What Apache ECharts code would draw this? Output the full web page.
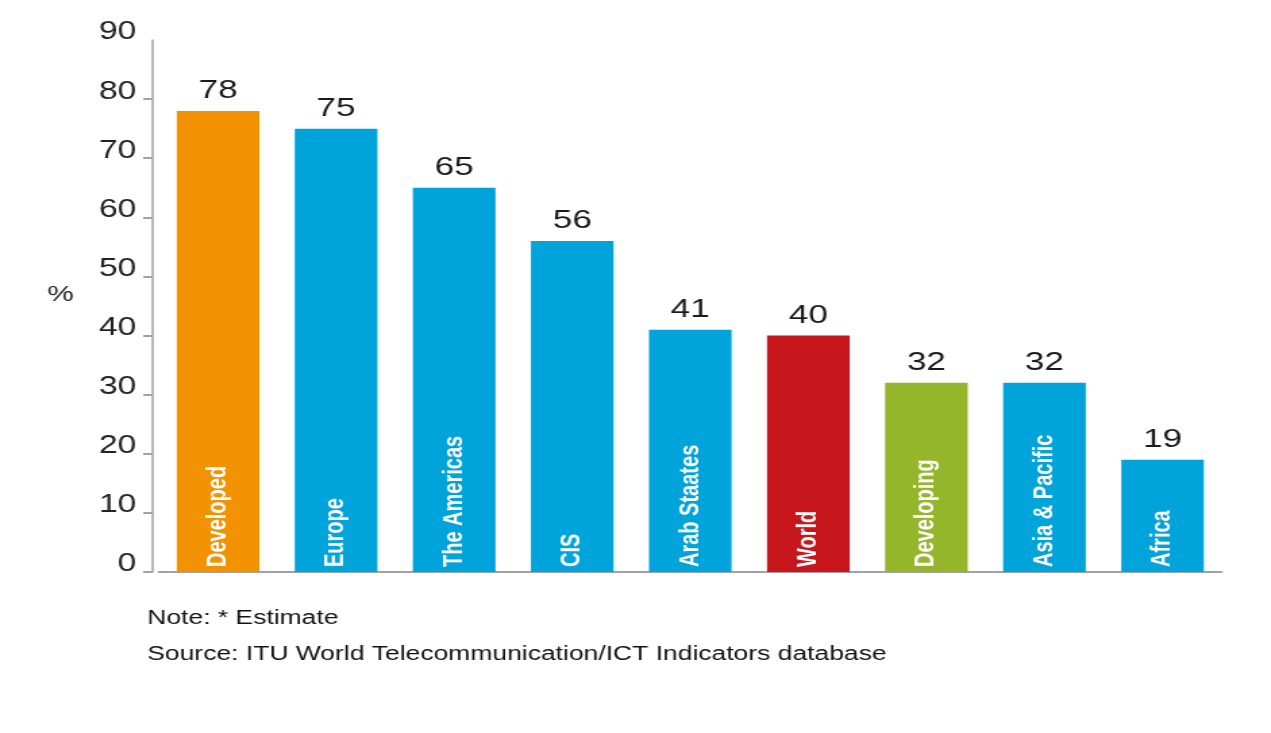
<!DOCTYPE html>
<html><head><meta charset="utf-8">
<script src="https://cdn.jsdelivr.net/npm/echarts@6/dist/echarts.min.js"></script>
<style>
html,body{margin:0;padding:0;overflow:hidden;background:#fff;width:1271px;height:733px}
#chart{width:941px;height:733px;transform:scaleX(1.3507);transform-origin:0 0;}
</style></head><body><div id="chart"></div>
<script>
// ---- data ----
const categories = ['Developed', 'Europe', 'The Americas', 'CIS', 'Arab Staates', 'World', 'Developing', 'Asia & Pacific', 'Africa'];
const values = [78, 75, 65, 56, 41, 40, 32, 32, 19];
const yAxisTicks = [0, 10, 20, 30, 40, 50, 60, 70, 80, 90];
const yAxisUnit = '%';
const noteText = 'Note: * Estimate';
const sourceText = 'Source: ITU World Telecommunication/ICT Indicators database';

// ---- styling ----
const blue = '#00a3da';
const specialColors = { 'Developed': '#f39200', 'World': '#c8161d', 'Developing': '#95b62a' };
const axisGray = '#a2a2a6';
const labelFont = '"Liberation Sans", Arial, sans-serif';

const chart = echarts.init(document.getElementById('chart'));
chart.setOption({
  animation: false,
  title: [
    { text: noteText, left: 109, top: 609, padding: 0, textStyle: { fontFamily: labelFont, fontSize: 19.6, fontWeight: 'normal', color: '#111' } },
    { text: sourceText, left: 109, top: 645, padding: 0, textStyle: { fontFamily: labelFont, fontSize: 19.6, fontWeight: 'normal', color: '#111' } },
    { text: yAxisUnit, left: 35, top: 284, padding: 0, textStyle: { fontFamily: labelFont, fontSize: 22, fontWeight: 'normal', color: '#222' } }
  ],
  grid: { left: 117.7, right: 36.6, top: 40, bottom: 161, containLabel: false },
  xAxis: {
    type: 'category',
    data: categories,
    axisLine: { show: true, lineStyle: { color: axisGray, width: 2 } },
    axisTick: { show: false },
    axisLabel: { show: false },
    splitLine: { show: false }
  },
  yAxis: {
    type: 'value',
    offset: 4.7,
    min: yAxisTicks[0],
    max: yAxisTicks[yAxisTicks.length - 1],
    interval: 10,
    axisLine: { show: true, lineStyle: { color: axisGray, width: 1.5 } },
    axisTick: { show: true, length: 7, lineStyle: { color: axisGray, width: 2 }, customValues: yAxisTicks.slice(0, -1) },
    axisLabel: { fontFamily: labelFont, fontSize: 25, color: '#222', margin: 12, verticalAlign: 'bottom', lineHeight: 15 },
    splitLine: { show: false }
  },
  series: [
    {
      type: 'bar',
      barWidth: '70%',
      data: values.map((v, i) => ({ value: v, itemStyle: { color: specialColors[categories[i]] || blue } })),
      label: { show: true, position: 'top', distance: 7, fontFamily: labelFont, fontSize: 26, color: '#1a1a1a' }
    },
    {
      type: 'bar',
      barWidth: '70%',
      barGap: '-100%',
      silent: true,
      z: 5,
      data: values,
      itemStyle: { color: 'rgba(0,0,0,0)' },
      label: {
        show: true, position: 'insideBottom', rotate: 90, align: 'left', verticalAlign: 'middle', distance: 5,
        formatter: '{b}', color: '#fff', fontFamily: labelFont, fontWeight: 'bold', fontSize: 20
      }
    }
  ]
});
</script></body></html>
